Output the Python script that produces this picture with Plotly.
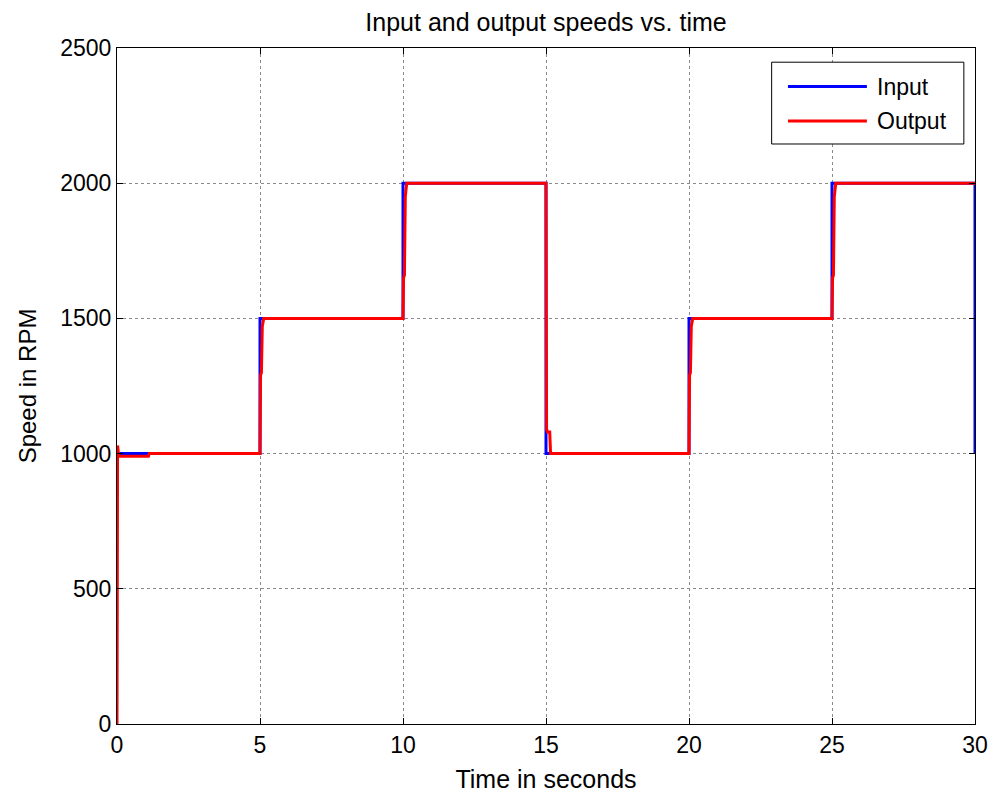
import plotly.graph_objects as go

# Data
input_t = [0, 5, 5, 10, 10, 15, 15, 20, 20, 25, 25, 30, 30]
input_v = [1000, 1000, 1500, 1500, 2000, 2000, 1000, 1000, 1500, 1500, 2000, 2000, 1000]

output_t = [0, 0.02, 0.06, 1.1, 1.13,
            5.0, 5.02, 5.05, 5.08, 5.13,
            10.0, 10.02, 10.05, 10.08, 10.13,
            15.0, 15.02, 15.05, 15.13, 15.16,
            20.0, 20.02, 20.05, 20.08, 20.13,
            25.0, 25.02, 25.05, 25.08, 25.13,
            30.0]
output_v = [0, 1030, 990, 990, 1000,
            1000, 1290, 1300, 1470, 1500,
            1500, 1650, 1660, 1950, 2000,
            2000, 1090, 1080, 1080, 1000,
            1000, 1290, 1300, 1470, 1500,
            1500, 1650, 1660, 1950, 2000,
            2000]

x_ticks = [0, 5, 10, 15, 20, 25, 30]
y_ticks = [0, 500, 1000, 1500, 2000, 2500]

series_names = ["Input", "Output"]
series_colors = ["#0000ff", "#ff0000"]

fig = go.Figure()
fig.add_trace(go.Scatter(x=input_t, y=input_v, mode="lines", name=series_names[0],
                         line=dict(color=series_colors[0], width=3), showlegend=False))
fig.add_trace(go.Scatter(x=output_t, y=output_v, mode="lines", name=series_names[1],
                         line=dict(color=series_colors[1], width=3), showlegend=False))

font = "Liberation Sans, Arial, sans-serif"

axis_common = dict(showline=True, linecolor="black", linewidth=1, mirror="ticks",
                   ticks="inside", ticklen=6, tickcolor="black", tickwidth=1,
                   showgrid=True, gridcolor="#8a8a8a", gridwidth=1, griddash="dot",
                   zeroline=False, automargin=False,
                   tickfont=dict(family=font, size=23, color="black"))

fig.update_xaxes(range=[0, 30], tickvals=x_ticks, ticktext=[str(v) for v in x_ticks],
                 title=dict(text="Time in seconds", font=dict(family=font, size=25, color="black"),
                            standoff=13),
                 **axis_common)
fig.update_yaxes(range=[0, 2500], tickvals=y_ticks, ticktext=[str(v) for v in y_ticks],
                 title=dict(text="Speed in RPM", font=dict(family=font, size=24, color="black"),
                            standoff=16),
                 **axis_common)

# Custom legend (MATLAB style)
lx0, lx1 = 0.763, 0.987
ly0, ly1 = 0.858, 0.979
fig.add_shape(type="rect", xref="paper", yref="paper", x0=lx0, x1=lx1, y0=ly0, y1=ly1,
              line=dict(color="black", width=1), fillcolor="white", layer="above")
rows = [0.943, 0.892]
for name, col, yy in zip(series_names, series_colors, rows):
    fig.add_shape(type="line", xref="paper", yref="paper", x0=0.782, x1=0.874, y0=yy, y1=yy,
                  line=dict(color=col, width=3), layer="above")
    fig.add_annotation(xref="paper", yref="paper", x=0.884, y=yy, text=name, showarrow=False,
                       xanchor="left", yanchor="middle",
                       font=dict(family=font, size=23, color="black"))

fig.update_layout(
    width=992, height=794,
    margin=dict(l=117, r=17, t=48, b=70),
    paper_bgcolor="white", plot_bgcolor="white",
    title=dict(text="Input and output speeds vs. time", x=0.5, xref="paper", xanchor="center",
               y=1 - 22 / 794, yanchor="middle",
               font=dict(family=font, size=25, color="black")),
    showlegend=False,
)

fig.write_html("out.html")
